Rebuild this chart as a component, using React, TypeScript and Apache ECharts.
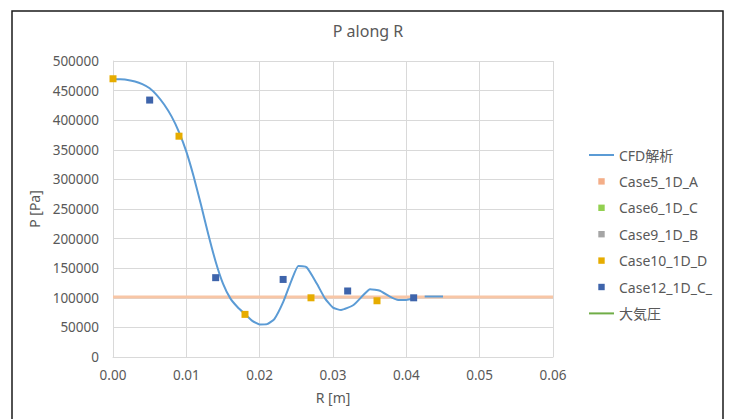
import React, { useEffect, useRef } from "react";
import * as echarts from "echarts";

const FONT = "'Noto Sans', 'Noto Sans CJK JP', sans-serif";

const xTicks = [0, 0.01, 0.02, 0.03, 0.04, 0.05, 0.06];

const cfdR = [
  0, 0.001, 0.002, 0.003, 0.004, 0.005, 0.006, 0.007, 0.008, 0.009, 0.01, 0.011,
  0.012, 0.013, 0.014, 0.015, 0.016, 0.017, 0.018, 0.019, 0.02, 0.021, 0.022,
  0.02323, 0.02436, 0.02527, 0.0264, 0.02777, 0.0289, 0.03, 0.0311, 0.0328, 0.03414,
  0.03505, 0.0364, 0.03777, 0.0389, 0.04, 0.041, 0.0417, 0.0425, 0.045,
];
const cfdP: (number | null)[] = [
  469500, 469000, 468000, 465500, 461000, 454000, 442000, 426000, 406000, 380000, 347000, 305000,
  257000, 207000, 161000, 124000, 99000, 84000, 72500, 61000, 55000, 55500, 64000,
  93400, 130000, 153700, 151500, 124500, 99000, 83300, 79400, 87800, 104700,
  114300, 112000, 101900, 96300, 96300, 99100, null, 102000, 102000,
];

const case5R = [0, 0.06];
const case5P = [101325, 101325];

const case10R = [0, 0.009, 0.018, 0.027, 0.036];
const case10P = [470000, 373000, 72000, 100000, 95000];

const case12R = [0.005, 0.014, 0.0232, 0.032, 0.041];
const case12P = [434000, 134000, 131000, 111500, 100000];

const zip = (xs: number[], ys: (number | null)[]) =>
  xs.map((x, i) => [x, ys[i] === null ? "-" : ys[i]]);

export default function App() {
  const ref = useRef<HTMLDivElement>(null);
  useEffect(() => {
    if (!ref.current) return;
    const chart = echarts.init(ref.current, null, { renderer: "svg" });
    const txt = "#595959";
    const grid = "#D9D9D9";
    const markerSeries = (name: string, color: string, data: any[]) => ({
      name,
      type: "line",
      data,
      symbol: "rect",
      symbolSize: 7,
      showSymbol: true,
      itemStyle: { color },
      lineStyle: { opacity: 0, width: 0, color },
      z: 4,
    });
    chart.setOption({
      animation: false,
      backgroundColor: "#fff",
      textStyle: { fontFamily: FONT },
      title: {
        text: "P along R",
        left: 368,
        textAlign: "center",
        top: 23,
        padding: 0,
        textStyle: { color: txt, fontSize: 16, fontWeight: "normal", fontFamily: FONT },
      },
      graphic: [
        {
          type: "rect",
          shape: { x: 12, y: 11, width: 711, height: 420 },
          style: { fill: "none", stroke: "#1a1a1a", lineWidth: 1.5 },
          silent: true,
        },
      ],
      grid: { left: 113, right: 177, top: 61, bottom: 62, containLabel: false },
      legend: {
        orient: "vertical",
        left: 588,
        top: 147,
        padding: 0,
        itemWidth: 25,
        itemHeight: 8,
        itemGap: 10.4,
        textStyle: { color: txt, fontSize: 14, lineHeight: 16, fontFamily: FONT },
        data: [
          { name: "CFD解析", itemStyle: { opacity: 0 } },
          { name: "Case5_1D_A", lineStyle: { opacity: 0 } },
          { name: "Case6_1D_C", lineStyle: { opacity: 0 } },
          { name: "Case9_1D_B", lineStyle: { opacity: 0 } },
          { name: "Case10_1D_D", lineStyle: { opacity: 0 } },
          { name: "Case12_1D_C_", lineStyle: { opacity: 0 } },
          { name: "大気圧", itemStyle: { opacity: 0 } },
        ],
      },
      xAxis: {
        type: "value",
        min: xTicks[0],
        max: xTicks[xTicks.length - 1],
        interval: 0.01,
        name: "R [m]",
        nameLocation: "middle",
        nameGap: 33,
        nameTextStyle: { color: txt, fontSize: 14, fontFamily: FONT },
        axisLine: { show: true, lineStyle: { color: grid, width: 1 } },
        axisTick: { show: false },
        splitLine: { show: true, lineStyle: { color: grid, width: 1 } },
        axisLabel: {
          color: txt,
          fontSize: 13.5,
          margin: 11,
          fontFamily: FONT,
          formatter: (v: number) => v.toFixed(2),
        },
      },
      yAxis: {
        type: "value",
        min: 0,
        max: 500000,
        interval: 50000,
        name: "P [Pa]",
        nameLocation: "middle",
        nameGap: 66,
        nameTextStyle: { color: txt, fontSize: 14, fontFamily: FONT },
        axisLine: { show: true, lineStyle: { color: grid, width: 1 } },
        axisTick: { show: false },
        splitLine: { show: true, lineStyle: { color: grid, width: 1 } },
        axisLabel: {
          color: txt,
          fontSize: 13.5,
          margin: 14,
          fontFamily: FONT,
          formatter: (v: number) => String(v),
        },
      },
      series: [
        {
          name: "CFD解析",
          type: "line",
          data: zip(cfdR, cfdP),
          symbol: "none",
          smooth: 0.15,
          connectNulls: false,
          itemStyle: { color: "#5B9BD5" },
          lineStyle: { color: "#5B9BD5", width: 2 },
          z: 3,
        },
        {
          name: "Case5_1D_A",
          type: "line",
          data: zip(case5R, case5P),
          symbol: "rect",
          showSymbol: false,
          itemStyle: { color: "#F4AE88" },
          lineStyle: { color: "#F8C6A6", width: 3 },
          z: 2,
        },
        markerSeries("Case6_1D_C", "#92D050", []),
        markerSeries("Case9_1D_B", "#A5A5A5", []),
        markerSeries("Case10_1D_D", "#E6AC00", zip(case10R, case10P)),
        markerSeries("Case12_1D_C_", "#3E64AB", zip(case12R, case12P)),
        {
          name: "大気圧",
          type: "line",
          data: [],
          symbol: "none",
          itemStyle: { color: "#70AD47" },
          lineStyle: { color: "#70AD47", width: 2 },
        },
      ],
    });
    return () => chart.dispose();
  }, []);
  return (
    <div
      ref={ref}
      style={{ position: "fixed", left: 0, top: 0, width: 730, height: 419, background: "#fff" }}
    />
  );
}
